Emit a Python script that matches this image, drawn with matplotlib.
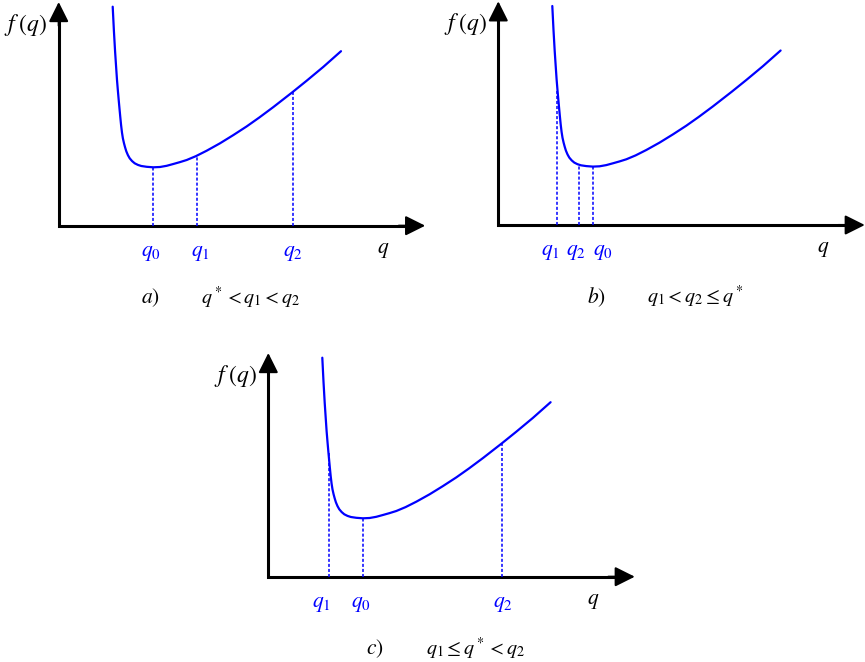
import matplotlib.pyplot as plt

plt.rcParams["mathtext.fontset"] = "stix"
plt.rcParams["font.family"] = "STIXGeneral"

W, H = 865, 662

# shared convex cost curve, panel units (px from the axis corner)
curve_q = [54, 55.2, 56.4, 57.4, 58.3, 59.2, 60, 60.8, 61.6, 62.4, 63.3, 64.2,
           65.3, 66.4, 67.6, 69.2, 71, 73.4, 76, 79.2, 82.6, 88, 94.6, 101.3,
           108, 114.6, 121.3, 128, 137.3, 148, 161.3, 174.6, 188, 200.6, 214.6,
           233.6, 248, 264.6, 282.3]
curve_f = [219, 195, 174, 159, 145.7, 134.8, 125.7, 117, 108.5, 100.5, 93, 87.3,
           82.4, 78.3, 74.4, 70.6, 67.4, 64.6, 62.4, 60.8, 59.7, 58.9, 58.4, 58.7,
           59.9, 61.7, 63.6, 65.7, 69.6, 75, 82.4, 90.6, 99.3, 108.2, 118.6,
           133.4, 145, 158.8, 174.5]

# panel origins in figure pixels (x from left, y from top)
origins = [(58.7, 225.7), (498.3, 225.0), (268.3, 576.7)]

# dotted markers: names, x position, height of the curve there
marker_names = [["q_0", "q_1", "q_2"], ["q_1", "q_2", "q_0"], ["q_1", "q_0", "q_2"]]
marker_x = [[94.6, 138, 234], [59, 80.7, 94.4], [60.2, 95, 234]]
marker_h = [[58.4, 70, 133.6], [134.5, 60.5, 58.4], [124, 58.4, 133.6]]
label_x = [[92.3, 141.3, 234.5], [52.4, 77.7, 104.7], [53.4, 92.4, 234.4]]

captions = ["a", "b", "c"]
caption_x = [91.3, 98.4, 106.7]
conditions = [r"q^* < q_1 < q_2", r"q_1 < q_2 \leq q^*", r"q_1 \leq q^* < q_2"]
condition_x = [192, 197.5, 207.5]

blue = "#0000ff"
fig = plt.figure(figsize=(W / 100, H / 100), dpi=100)

for i, (ox, oy) in enumerate(origins):
    ax = fig.add_axes([(ox - 60) / W, (H - oy - 80) / H, 430 / W, 310 / H])
    ax.set_xlim(-60, 370)
    ax.set_ylim(-80, 230)
    ax.set_axis_off()

    # axes with arrow heads
    ax.plot([0, 0, 360], [218, 0, 0], color="k", lw=2.2,
            solid_joinstyle="miter", solid_capstyle="butt")
    for tip, start in [((0, 223.7), (0, 200)), ((366.5, 0), (340, 0))]:
        ax.annotate("", xy=tip, xytext=start,
                    arrowprops=dict(arrowstyle="-|>,head_length=1.1,head_width=0.55",
                                    lw=1.5, color="k", mutation_scale=11,
                                    shrinkA=0, shrinkB=0))

    ax.plot(curve_q, curve_f, color=blue, lw=1.6,
            solid_joinstyle="round", solid_capstyle="round")

    for name, mx, mh, lx in zip(marker_names[i], marker_x[i], marker_h[i], label_x[i]):
        ax.plot([mx, mx], [0, mh], color=blue, lw=1.1, linestyle=(0, (2, 1.3)))
        ax.text(lx, -27, f"${name}$", color=blue, fontsize=15.5,
                ha="center", va="center")

    ax.text(-33, 201, r"$f\;(q)$", fontsize=17, ha="center", va="center")
    ax.text(325, -24, r"$q$", fontsize=15.5, ha="center", va="center")
    ax.text(caption_x[i], -72, f"${captions[i]}$)", fontsize=15.5,
            ha="center", va="center")
    ax.text(condition_x[i], -72, f"${conditions[i]}$", fontsize=14.5,
            ha="center", va="center")

fig.savefig("out.png", dpi=100)
